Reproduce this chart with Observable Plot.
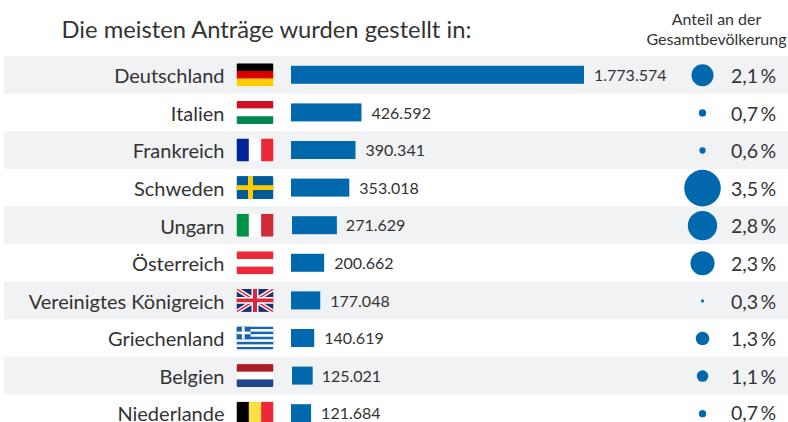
<!DOCTYPE html>
<html lang="de">
<head>
<meta charset="utf-8">
<title>Die meisten Anträge wurden gestellt in:</title>
<script src="https://cdn.jsdelivr.net/npm/d3@7"></script>
<script src="https://cdn.jsdelivr.net/npm/@observablehq/plot@0.6"></script>
<style>
  html, body { margin: 0; padding: 0; background: #fff; overflow: hidden; }
  #chart { position: relative; width: 788px; height: 422px; font-family: Lato, sans-serif; color: #333; }
  header { position: relative; height: 56px; }
  h1 { position: absolute; left: 61.5px; top: 13px; margin: 0; font-size: 23.75px; line-height: 32px; font-weight: 400; white-space: nowrap; }
  .share { position: absolute; left: 642px; width: 149px; top: 9px; text-align: center; font-size: 16px; line-height: 20px; white-space: nowrap; }
  svg { display: block; }
</style>
</head>
<body>
<div id="chart">
  <header>
    <h1>Die meisten Anträge wurden gestellt in:</h1>
    <div class="share">Anteil an der<br>Gesamtbevölkerung</div>
  </header>
</div>
<script>
const countries = ["Deutschland", "Italien", "Frankreich", "Schweden", "Ungarn", "Österreich", "Vereinigtes Königreich", "Griechenland", "Belgien", "Niederlande"];
const applications = [1773574, 426592, 390341, 353018, 271629, 200662, 177048, 140619, 125021, 121684];
const populationShare = [2.1, 0.7, 0.6, 3.5, 2.8, 2.3, 0.3, 1.3, 1.1, 0.7];
const flagCodes = ["de", "hu", "fr", "se", "it", "at", "gb", "gr", "nl", "be"];
const shiftedRows = ["Ungarn", "Belgien"];

const stripesH = (cs) => cs.map((c, i) => `<rect y="${i * 24 / cs.length}" width="37" height="${24 / cs.length + .1}" fill="${c}"/>`).join("");
const stripesV = (cs) => cs.map((c, i) => `<rect x="${i * 37 / cs.length}" width="${37 / cs.length + .1}" height="24" fill="${c}"/>`).join("");
const flagArt = {
  de: stripesH(["#000000", "#dd0000", "#ffce00"]),
  hu: stripesH(["#ce1126", "#ffffff", "#008751"]),
  fr: stripesV(["#002395", "#ffffff", "#ed2939"]),
  se: `<rect width="37" height="24" fill="#005b99"/><rect x="11.5" width="5" height="24" fill="#fecc00"/><rect y="9.5" width="37" height="5" fill="#fecc00"/>`,
  it: stripesV(["#009246", "#ffffff", "#ce2b37"]),
  at: stripesH(["#ed2939", "#ffffff", "#ed2939"]),
  gb: `<rect width="37" height="24" fill="#1f2f6e"/><path d="M0 0L37 24M37 0L0 24" stroke="#fff" stroke-width="4.5"/><path d="M0 0L37 24M37 0L0 24" stroke="#d8283c" stroke-width="1.5"/><path d="M18.5 0V24M0 12H37" stroke="#fff" stroke-width="7"/><path d="M18.5 0V24M0 12H37" stroke="#d8283c" stroke-width="4"/>`,
  gr: `<rect width="37" height="24" fill="#1a63b0"/>` + [2.67, 8, 13.33, 18.67].map(y => `<rect y="${y}" width="37" height="2.67" fill="#fff"/>`).join("") + `<rect width="14" height="13.3" fill="#1a63b0"/><rect x="5.4" width="2.7" height="13.3" fill="#fff"/><rect y="5.3" width="14" height="2.7" fill="#fff"/>`,
  nl: stripesH(["#ae1c28", "#ffffff", "#21468b"]),
  be: stripesV(["#000000", "#fae042", "#ed2939"])
};
const flagUri = (code) => "data:image/svg+xml;charset=utf-8," + encodeURIComponent(
  `<svg xmlns="http://www.w3.org/2000/svg" width="37" height="24" viewBox="0 0 37 24"><clipPath id="c"><rect width="37" height="24" rx="1.5"/></clipPath><g clip-path="url(#c)">${flagArt[code]}</g></svg>`);

const rows = countries.map((name, i) => ({name, value: applications[i], share: populationShare[i], flag: flagCodes[i], i}));
const de = d3.formatLocale({decimal: ",", thousands: ".", grouping: [3], currency: ["", " €"]});
const fmtValue = de.format(",d");
const fmtShare = de.format(".1f");
const blue = "#0068ad";
const ink = "#333333";
const lastRow = countries[countries.length - 1];
const upper = rows.filter(d => d.name !== lastRow);
const lower = rows.filter(d => d.name === lastRow);
const nameLabels = (data, dy) => Plot.text(data, {y: "name", text: "name", frameAnchor: "left", dx: 220, dy, textAnchor: "end", fontSize: 20, fill: ink});
const shareLabels = (data, dy) => Plot.text(data, {y: "name", text: d => fmtShare(d.share) + "\u2009%", frameAnchor: "left", dx: 726.5, dy, textAnchor: "start", fontSize: 19.5, fill: ink});

const plot = Plot.plot({
  width: 788,
  height: 366,
  marginLeft: 4, marginRight: 0, marginTop: 0, marginBottom: 0,
  style: {fontFamily: "Lato, sans-serif", background: "transparent", color: ink},
  x: {axis: null, domain: [0, 1773574], range: [291, 584]},
  y: {axis: null, domain: countries, range: [0, 376], padding: 0, round: false},
  r: {type: "linear", domain: [0, 3.5], range: [0, 18.3]},
  marks: [
    Plot.cell(rows.filter(d => d.i % 2 === 0), {y: "name", fill: "#f1f2f4"}),
    Plot.barX(rows.filter(d => !shiftedRows.includes(d.name)), {x: "value", y: "name", fill: blue, insetTop: 9.8, insetBottom: 9.8}),
    Plot.barX(rows.filter(d => shiftedRows.includes(d.name)), {x: "value", y: "name", fill: blue, insetTop: 9.8, insetBottom: 9.8, dx: 1}),
    nameLabels(upper, 1.5),
    nameLabels(lower, 0.5),
    Plot.image(rows, {y: "name", src: d => flagUri(d.flag), width: 37, height: 23, frameAnchor: "left", dx: 250.5, dy: -0.5, preserveAspectRatio: "none"}),
    Plot.text(rows, {x: "value", y: "name", text: d => fmtValue(d.value), dx: 9.5, textAnchor: "start", fontSize: 16, fill: ink, dy: .5}),
    Plot.dot(rows, {y: "name", r: "share", fill: blue, frameAnchor: "left", dx: 698}),
    shareLabels(upper, 1.5),
    shareLabels(lower, 0.5)
  ]
});
document.getElementById("chart").appendChild(plot);
</script>
</body>
</html>
